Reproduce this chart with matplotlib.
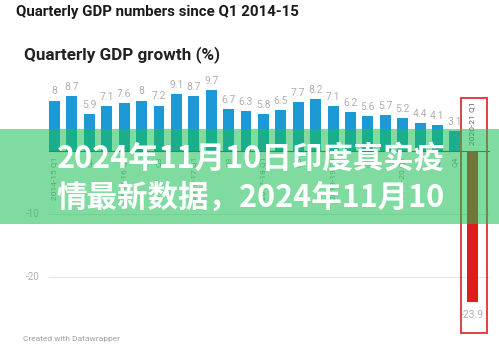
import matplotlib
matplotlib.use('Agg')
import matplotlib.pyplot as plt
from matplotlib.patches import Rectangle

# 季度GDP增速 (%) 2014-15 Q1 ~ 2020-21 Q1
growth = [8, 8.7, 5.9, 7.1, 7.6, 8, 7.2, 9.1, 8.7, 9.7, 6.7, 6.3, 5.8,
          6.5, 7.7, 8.2, 7.1, 6.2, 5.6, 5.7, 5.2, 4.4, 4.1, 3.1, -23.9]
value_labels = ['8', '8.7', '5.9', '7.1', '7.6', '8', '7.2', '9.1', '8.7', '9.7',
                '6.7', '6.3', '5.8', '6.5', '7.7', '8.2', '7.1', '6.2', '5.6',
                '5.7', '5.2', '4.4', '4.1', '3.1', '-23.9']
quarter_idx = [0, 2, 4, 6, 8, 10, 12, 14, 16, 18, 20, 22, 23, 24]
quarter_labels = ['2014-15 Q1', 'Q3', '2015-16 Q1', 'Q3', '2016-17 Q1', 'Q3',
                  '2017-18 Q1', 'Q3', '2018-19 Q1', 'Q3', '2019-20 Q1', 'Q3',
                  'Q4', '2020-21 Q1']
y_ticks = [-10, -20]
overlay_lines = ['2024年11月10日印度真实疫', '情最新数据，2024年11月10']

W, H = 499, 354
fig = plt.figure(figsize=(W / 100, H / 100), dpi=100)
fig.patch.set_facecolor('white')

# 坐标区：零线约在 y=151px，每单位 6.3px
ax = fig.add_axes([45 / W, (H - 336) / H, 445 / W, 266 / H])
ax.set_xlim(-0.55, 25.02)
ax.set_ylim(-(336 - 151) / 6.3, (151 - 70) / 6.3)
for s in ax.spines.values():
    s.set_visible(False)
ax.set_xticks([])
ax.set_yticks([])

blue = '#1d9ad6'
red = '#e01b1b'
colors = [blue] * (len(growth) - 1) + [red]
x = list(range(len(growth)))
ax.bar(x, growth, width=0.63, color=colors, zorder=2)

# 网格线和零线
for yv in y_ticks:
    ax.axhline(yv, xmin=0.01, color='#e6e6e6', lw=0.8, zorder=1)
    ax.annotate(str(yv), xy=(0, yv),
                xycoords=('axes fraction', 'data'), xytext=(-4, 0),
                textcoords='offset points', ha='right', va='center',
                fontsize=7, color='#b0b0b0', family='Roboto')
ax.axhline(0, xmin=0.01, color='#555555', lw=0.8, zorder=3)

# 数值标签
for i, (v, lab) in enumerate(zip(growth, value_labels)):
    if v >= 0:
        ax.annotate(lab, xy=(i, v), xytext=(0, 3), textcoords='offset points',
                    ha='center', va='bottom', fontsize=7.5, color='#b0b0b0',
                    family='Roboto')
    else:
        ax.annotate(lab, xy=(i, v), xytext=(0, -6), textcoords='offset points',
                    ha='center', va='top', fontsize=7.5, color='#b0b0b0',
                    family='Roboto')

# 季度标签（竖排）
for i, lab in zip(quarter_idx, quarter_labels):
    if growth[i] >= 0:
        ax.annotate(lab, xy=(i, 0), xytext=(0, -4), textcoords='offset points',
                    ha='center', va='top', rotation=90, fontsize=6,
                    color='#9a9a9a', family='Roboto')
    else:
        ax.annotate(lab, xy=(i, 0), xytext=(0, 4), textcoords='offset points',
                    ha='center', va='bottom', rotation=90, fontsize=6,
                    color='#666666', family='Roboto')

# 红框
fig.patches.append(Rectangle((461 / W, (H - 333) / H), 26 / W, 235 / H,
                             transform=fig.transFigure, fill=False,
                             edgecolor='#e03030', lw=1.3, zorder=4))

# 标题
fig.text(16 / W, 1 - 12 / H, 'Quarterly GDP numbers since Q1 2014-15',
         ha='left', va='center', fontsize=10.8, fontweight='bold',
         color='#1a1a1a', family='Roboto')
fig.text(24 / W, 1 - 55 / H, 'Quarterly GDP growth (%)', ha='left',
         va='center', fontsize=12.3, fontweight='bold', color='#222222',
         family='Roboto')
fig.text(23 / W, 1 - 339 / H, 'Created with Datawrapper', ha='left',
         va='center', fontsize=6, color='#a0a0a0', family='Roboto')

# 绿色遮罩和文字
fig.patches.append(Rectangle((0, (H - 224) / H), 1, 95 / H,
                             transform=fig.transFigure, facecolor=(24 / 255, 191 / 255, 82 / 255),
                             alpha=0.55, edgecolor='none', zorder=5))
for k, line in enumerate(overlay_lines):
    fig.text(57 / W, 1 - (159 + 39 * k) / H, line, ha='left', va='center',
             fontsize=22, fontweight='bold', color='white',
             family=['Noto Sans CJK SC', 'DejaVu Sans'], zorder=6)

fig.savefig('out.png', dpi=100)
